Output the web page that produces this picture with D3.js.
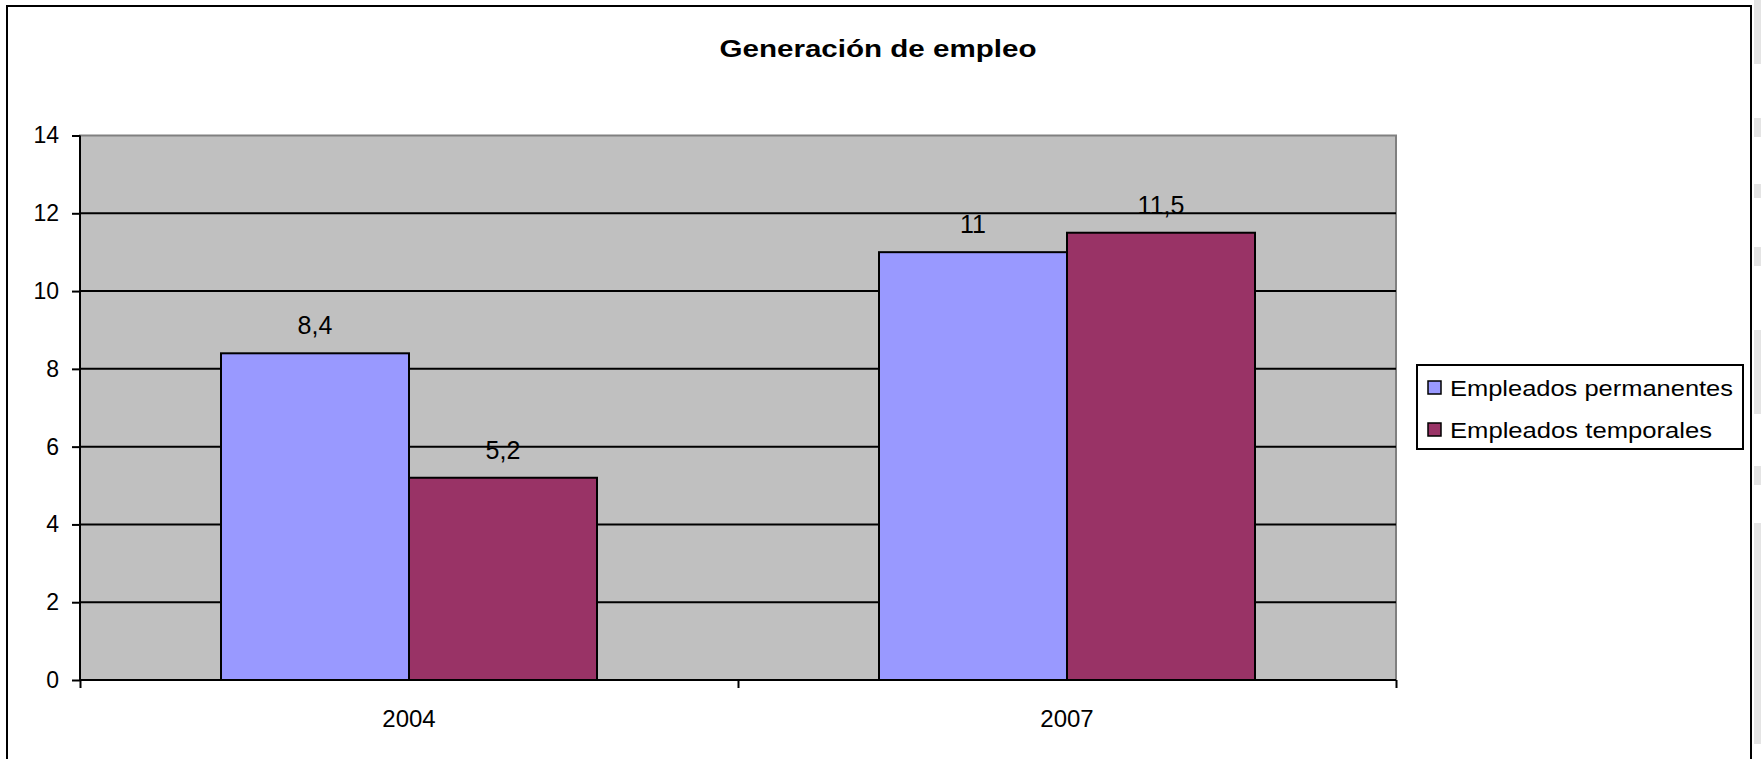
<!DOCTYPE html>
<html>
<head>
<meta charset="utf-8">
<script src="https://cdn.jsdelivr.net/npm/d3@7"></script>
<style>
  body { margin: 0; background: #fff; }
  text { font-family: Arial, "Liberation Sans", sans-serif; fill: #000; }
</style>
</head>
<body>
<script>
const width = 1761
const height = 759

const years = ['2004', '2007']
const seriesNames = ['Empleados permanentes', 'Empleados temporales']
const permanentes = [8.4, 11]
const temporales = [5.2, 11.5]
const valueLabels = [['8,4', '11'], ['5,2', '11,5']]
const yTicks = [0, 2, 4, 6, 8, 10, 12, 14]
const colors = ['#9999ff', '#993366']

const plot = {left: 80, top: 135.5, right: 1396, bottom: 680}

const svg = d3.select('body')
    .append('svg')
    .attr('width', width)
    .attr('height', height)

// bits of the page showing past the chart's right edge
const strips = [[0, 64], [118, 137], [184, 198], [247, 266], [330, 414], [466, 485], [523, 744]]
svg.append('g')
    .selectAll('rect')
    .data(strips)
    .enter()
    .append('rect')
    .attr('x', 1754).attr('y', d => d[0])
    .attr('width', 7).attr('height', d => d[1] - d[0])
    .attr('fill', '#e4e4e4')

// chart frame (runs past the bottom of the picture)
svg.append('rect')
    .attr('x', 7).attr('y', 6)
    .attr('width', 1744).attr('height', 800)
    .attr('fill', '#fff')
    .attr('stroke', '#000')
    .attr('stroke-width', 2)

svg.append('text')
    .attr('x', 878).attr('y', 57)
    .attr('text-anchor', 'middle')
    .attr('font-size', 23)
    .attr('font-weight', 'bold')
    .attr('textLength', 317)
    .attr('lengthAdjust', 'spacingAndGlyphs')
    .text('Generación de empleo')

const y = d3.scaleLinear()
    .domain([0, 14])
    .range([plot.bottom, plot.top])

const x0 = d3.scaleBand()
    .domain(years)
    .range([plot.left, plot.right])

// Excel style: gap width 150% between clusters
const barW = x0.bandwidth() / (seriesNames.length + 1.5)

svg.append('rect')
    .attr('x', plot.left).attr('y', plot.top)
    .attr('width', plot.right - plot.left)
    .attr('height', plot.bottom - plot.top)
    .attr('fill', '#c0c0c0')
    .attr('stroke', '#808080')
    .attr('stroke-width', 2)

svg.append('g')
    .selectAll('line')
    .data(yTicks.filter(t => t > 0 && t < 14))
    .enter()
    .append('line')
    .attr('x1', plot.left).attr('x2', plot.right)
    .attr('y1', d => y(d)).attr('y2', d => y(d))
    .attr('stroke', '#000')
    .attr('stroke-width', 2)

const series = [permanentes, temporales]

series.forEach((vals, s) => {
    const g = svg.append('g')
    g.selectAll('rect')
        .data(vals)
        .enter()
        .append('rect')
        .attr('x', (d, i) => x0(years[i]) + barW * 0.75 + s * barW)
        .attr('y', d => y(d))
        .attr('width', barW)
        .attr('height', d => y(0) - y(d))
        .attr('fill', colors[s])
        .attr('stroke', '#000')
        .attr('stroke-width', 2)

    g.selectAll('text')
        .data(vals)
        .enter()
        .append('text')
        .attr('x', (d, i) => x0(years[i]) + barW * 0.75 + s * barW + barW / 2)
        .attr('y', d => y(d) - 19)
        .attr('text-anchor', 'middle')
        .attr('font-size', 25)
        .text((d, i) => valueLabels[s][i])
})

// axes
const yAxis = d3.axisLeft(y)
    .tickValues(yTicks)
    .tickSize(8)
    .tickPadding(13)

const yg = svg.append('g')
    .attr('transform', `translate(${plot.left},0)`)
    .call(yAxis)
yg.select('.domain').attr('stroke', '#000').attr('stroke-width', 2)
    .attr('d', `M0,${plot.top}V${plot.bottom}`)
yg.selectAll('.tick line').attr('stroke', '#000').attr('stroke-width', 2)
yg.selectAll('.tick text').attr('font-size', 23).attr('font-family', 'Arial, "Liberation Sans", sans-serif')

const xEdges = d3.scaleLinear().domain([0, years.length]).range([plot.left, plot.right])
const xAxis = d3.axisBottom(xEdges)
    .tickValues(d3.range(years.length + 1))
    .tickSize(8)
    .tickFormat('')

const xg = svg.append('g')
    .attr('transform', `translate(0,${plot.bottom})`)
    .call(xAxis)
xg.select('.domain').attr('stroke', '#000').attr('stroke-width', 2)
    .attr('d', `M${plot.left},0H${plot.right}`)
xg.selectAll('.tick line').attr('stroke', '#000').attr('stroke-width', 2)

svg.append('g')
    .selectAll('text')
    .data(years)
    .enter()
    .append('text')
    .attr('x', d => x0(d) + x0.bandwidth() / 2)
    .attr('y', 727)
    .attr('text-anchor', 'middle')
    .attr('font-size', 24)
    .text(d => d)

// legend
const legendWidths = [283, 262]
const legend = svg.append('g')
legend.append('rect')
    .attr('x', 1417).attr('y', 365)
    .attr('width', 326).attr('height', 84)
    .attr('fill', '#fff')
    .attr('stroke', '#000')
    .attr('stroke-width', 2)

const items = legend.selectAll('g.item')
    .data(seriesNames)
    .enter()
    .append('g')
    .attr('class', 'item')
    .attr('transform', (d, i) => `translate(1428,${381 + i * 42})`)

items.append('rect')
    .attr('width', 13).attr('height', 13)
    .attr('fill', (d, i) => colors[i])
    .attr('stroke', '#000')
    .attr('stroke-width', 1.5)

items.append('text')
    .attr('x', 22).attr('y', 15)
    .attr('font-size', 22)
    .attr('textLength', (d, i) => legendWidths[i])
    .attr('lengthAdjust', 'spacingAndGlyphs')
    .text(d => d)
</script>
</body>
</html>
